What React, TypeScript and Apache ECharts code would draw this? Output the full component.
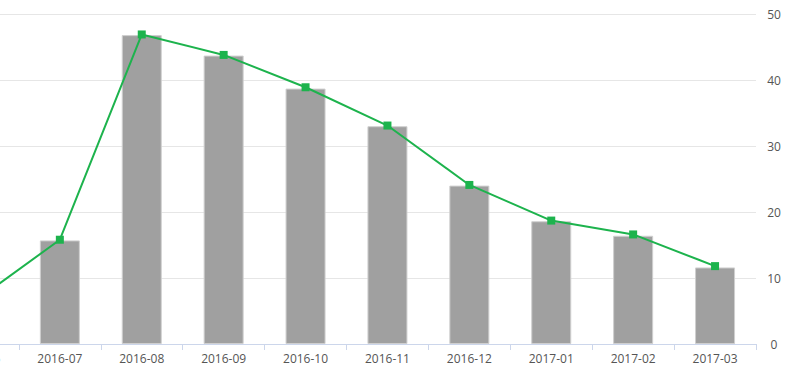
import React, { useEffect, useRef } from "react";
import * as echarts from "echarts";

const categories = ["2016-06", "2016-07", "2016-08", "2016-09", "2016-10", "2016-11", "2016-12", "2017-01", "2017-02", "2017-03"];
const barValues = [6.8, 15.7, 46.8, 43.7, 38.7, 33.0, 24.0, 18.6, 16.4, 11.6];
const lineValues = [6.8, 15.8, 46.9, 43.8, 38.9, 33.1, 24.1, 18.7, 16.6, 11.8];

export default function App() {
  const ref = useRef<HTMLDivElement>(null);
  useEffect(() => {
    if (!ref.current) return;
    const chart = echarts.init(ref.current, null, { renderer: "svg" });
    chart.setOption({
      animation: false,
      backgroundColor: "#ffffff",
      grid: { left: 0, right: 37, top: 14, bottom: 27, containLabel: false },
      xAxis: {
        type: "category",
        data: categories,
        axisLine: { lineStyle: { color: "#ccd6eb", width: 1 } },
        axisTick: { show: true, length: 6, lineStyle: { color: "#ccd6eb" } },
        axisLabel: { color: "#555", fontSize: 12, margin: 8, fontFamily: "Open Sans, sans-serif" },
        splitLine: { show: false },
      },
      yAxis: {
        type: "value",
        position: "right",
        min: 0,
        max: 50,
        interval: 10,
        axisLine: { show: false },
        axisTick: { show: false },
        axisLabel: { color: "#555", fontSize: 12, align: "center", margin: 18, fontFamily: "Open Sans, sans-serif" },
        splitLine: { lineStyle: { color: "#e6e6e6", width: 1 } },
      },
      series: [
        {
          type: "bar",
          data: barValues,
          barWidth: 40,
          itemStyle: { color: "#a0a0a0", borderColor: "#cfcfcf", borderWidth: 1 },
        },
        {
          type: "line",
          data: lineValues,
          symbol: "rect",
          symbolSize: 8,
          lineStyle: { color: "#1db34d", width: 2 },
          itemStyle: { color: "#1db34d" },
        },
      ],
    });
    return () => chart.dispose();
  }, []);
  return <div ref={ref} style={{ position: "fixed", left: -63, top: 0, width: 856, height: 371 }} />;
}
